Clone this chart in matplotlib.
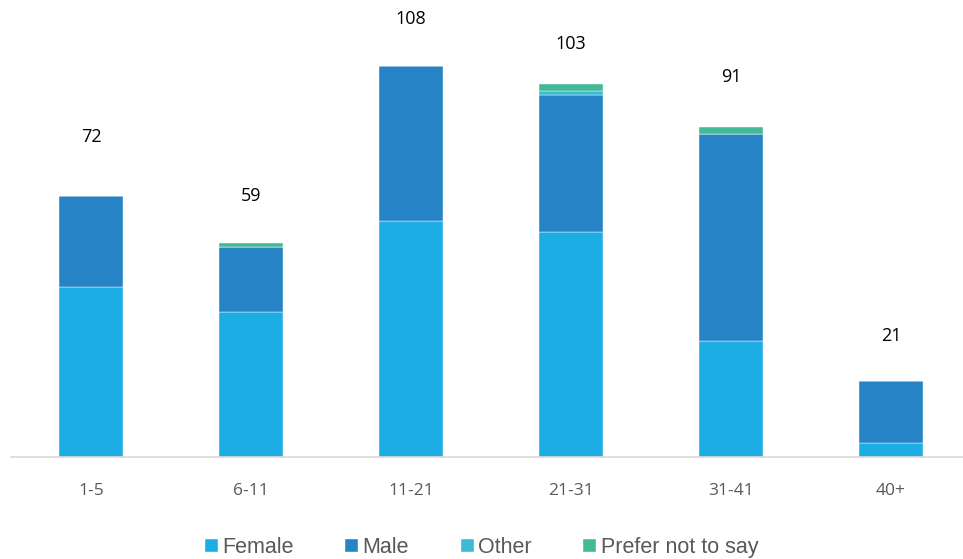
import matplotlib
matplotlib.use("Agg")
import matplotlib.pyplot as plt
import numpy as np

categories = ["1-5", "6-11", "11-21", "21-31", "31-41", "40+"]
female = [47, 40, 65, 62, 32, 4]
male = [25, 18, 43, 38, 57, 17]
other = [0, 0, 0, 1, 0, 0]
prefer = [0, 1, 0, 2, 2, 0]
series_names = ["Female", "Male", "Other", "Prefer not to say"]
colors = ["#1CADE4", "#2683C6", "#3BB9D6", "#42BA97"]

# label distance above bar top, in pixels (styling)
label_pad_px = [59, 47, 47, 40, 50, 45]

fig = plt.figure(figsize=(9.63, 5.59), dpi=100)
ax = fig.add_axes([11/963, 102/559, 960/963, 435/559])

x = np.arange(len(categories))
data = [female, male, other, prefer]
bottom = np.zeros(len(categories))
handles = []
for vals, name, col in zip(data, series_names, colors):
    vals = np.array(vals, dtype=float)
    b = ax.bar(x, vals, width=0.4, bottom=bottom, color=col, label=name,
               edgecolor="white", linewidth=0.3)
    handles.append(b)
    bottom += vals

totals = bottom
for xi, t, pad in zip(x, totals, label_pad_px):
    ax.annotate(f"{int(t)}", (xi, t), xytext=(0, pad * 0.72), textcoords="offset points",
                ha="center", va="center", fontsize=13, family="Open Sans",
                color="#000000", annotation_clip=False)

ax.set_xlim(-0.5, 5.5)
ax.set_ylim(0, 120)
ax.set_yticks([])
ax.set_xticks(x)
ax.set_xticklabels(categories, fontsize=12.5, family="Open Sans", color="#595959")
ax.tick_params(axis="x", length=0, pad=19)
for s in ["top", "right", "left"]:
    ax.spines[s].set_visible(False)
ax.spines["bottom"].set_color("#D9D9D9")
ax.spines["bottom"].set_linewidth(1.2)

leg = fig.legend(handles=handles, labels=series_names, loc="lower center",
                 bbox_to_anchor=(0.5, -0.033), ncol=4, frameon=False,
                 prop={"family": "Liberation Sans", "size": 15.5},
                 handlelength=0.6, handleheight=0.6, handletextpad=0.2,
                 columnspacing=2.4, labelcolor="#595959")

fig.savefig("out.png", dpi=100)
